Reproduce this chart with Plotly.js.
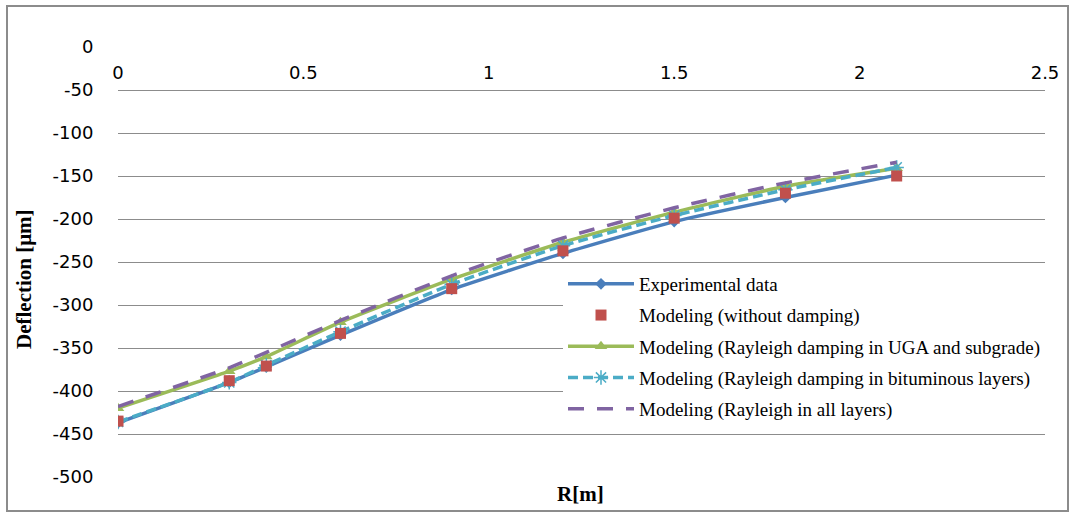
<!DOCTYPE html>
<html>
<head>
<meta charset="utf-8">
<script src="https://cdn.plot.ly/plotly-3.0.1.min.js"></script>
<style>
html,body{margin:0;padding:0;background:#fff;}
#chart{width:1069px;height:513px;}
</style>
</head>
<body>
<div id="chart"></div>
<script>
// Radial distance R [m]
const R = [0, 0.3, 0.4, 0.6, 0.9, 1.2, 1.5, 1.8, 2.1];
// Deflection [μm]
const experimental = [-437, -390, -372, -335, -282, -240, -203, -175, -149];
const noDamping    = [-435, -388, -371, -333, -281, -237, -199, -170, -150];
const dampUGA      = [-420, -377, -360, -320, -270, -227, -192, -162, -141];
const dampBitum    = [-436, -390, -370, -331, -276, -231, -196, -166, -140];
const dampAll      = [-418, -373, -355, -318, -266, -222, -187, -158, -134];

const names = [
  "Experimental data",
  "Modeling (without damping)",
  "Modeling (Rayleigh damping in UGA and subgrade)",
  "Modeling (Rayleigh damping in bituminous layers)",
  "Modeling (Rayleigh in all layers)"
];
const xTicks = [0, 0.5, 1, 1.5, 2, 2.5];
const xTickText = ["0", "0.5", "1", "1.5", "2", "2.5"];
const yTicks = [0, -50, -100, -150, -200, -250, -300, -350, -400, -450, -500];
const yTickText = ["0", "-50", "-100", "-150", "-200", "-250", "-300", "-350", "-400", "-450", "-500"];

const traces = [
  {x: R, y: experimental, name: names[0], mode: "lines+markers", legendgroup: "g1",
   line: {color: "#4A7EBB", width: 3.5, shape: "spline", smoothing: 0.5},
   marker: {symbol: "diamond", size: 9, color: "#4A7EBB"}},
  {x: R, y: noDamping, name: names[1], mode: "markers", legendgroup: "g2", zorder: 2,
   marker: {symbol: "square", size: 11, color: "#C0504D"}},
  {x: R, y: dampUGA, name: names[2], mode: "lines+markers", legendgroup: "g3",
   line: {color: "#9BBB59", width: 3.5, shape: "spline", smoothing: 0.5},
   marker: {symbol: "triangle-up", size: 11, color: "#9BBB59"}},
  {x: R, y: dampBitum, name: names[3], mode: "lines+markers", legendgroup: "g4",
   line: {color: "#4BACC6", width: 3.5, shape: "spline", smoothing: 0.5, dash: "10px,5px"},
   marker: {symbol: "asterisk-open", size: 12, color: "#4BACC6", line: {color: "#4BACC6", width: 1.5}}},
  {x: R, y: dampAll, name: names[4], mode: "lines", legendgroup: "g5",
   line: {color: "#8064A2", width: 3.5, shape: "spline", smoothing: 0.5, dash: "16px,13px"}}
];

const px2x = p => (p - 118) / 927;
const px2y = p => (477 - p) / 430;

const layout = {
  width: 1069, height: 513,
  margin: {l: 118, r: 24, t: 47, b: 36},
  paper_bgcolor: "#ffffff", plot_bgcolor: "#ffffff",
  showlegend: true,
  legend: {
    x: px2x(563), y: px2y(265), xanchor: "left", yanchor: "top",
    bgcolor: "#ffffff", borderwidth: 0,
    font: {family: "Liberation Serif, Times New Roman, serif", size: 19, color: "#000"},
    itemwidth: 66, traceorder: "grouped", tracegroupgap: 3.5
  },
  xaxis: {
    range: [0, 2.5], side: "top", ticklabelposition: "inside", ticklabeloverflow: "allow",
    tickvals: xTicks, ticktext: xTickText,
    showgrid: false, zeroline: false, showline: false, ticks: "",
    tickfont: {family: "DejaVu Sans, Verdana, sans-serif", size: 18, color: "#000"},
    ticklabelstandoff: 16, fixedrange: true
  },
  yaxis: {
    range: [-500, 0], tickvals: yTicks, ticktext: yTickText,
    showgrid: true, gridcolor: "#8c8c8c", gridwidth: 1,
    zeroline: false, showline: true, linecolor: "#8c8c8c", linewidth: 1,
    ticks: "", ticklabelstandoff: 20,
    tickfont: {family: "DejaVu Sans, Verdana, sans-serif", size: 18, color: "#000"},
    fixedrange: true
  },
  annotations: [
    {text: "<b>Deflection [μm]</b>", xref: "paper", yref: "paper",
     x: px2x(24), y: px2y(279), xanchor: "center", yanchor: "middle", textangle: -90,
     showarrow: false, font: {family: "Liberation Serif, Times New Roman, serif", size: 21, color: "#000"}},
    {text: "<b>R[m]</b>", xref: "paper", yref: "paper",
     x: px2x(580), y: px2y(494), xanchor: "center", yanchor: "middle",
     showarrow: false, font: {family: "Liberation Serif, Times New Roman, serif", size: 21, color: "#000"}}
  ],
  shapes: [
    {type: "rect", xref: "paper", yref: "paper",
     x0: px2x(7), x1: px2x(1068), y0: px2y(511), y1: px2y(6),
     line: {color: "#8c8c8c", width: 2}, fillcolor: "rgba(0,0,0,0)", layer: "below"}
  ]
};

Plotly.newPlot("chart", traces, layout, {displayModeBar: false, staticPlot: true});
</script>
</body>
</html>
